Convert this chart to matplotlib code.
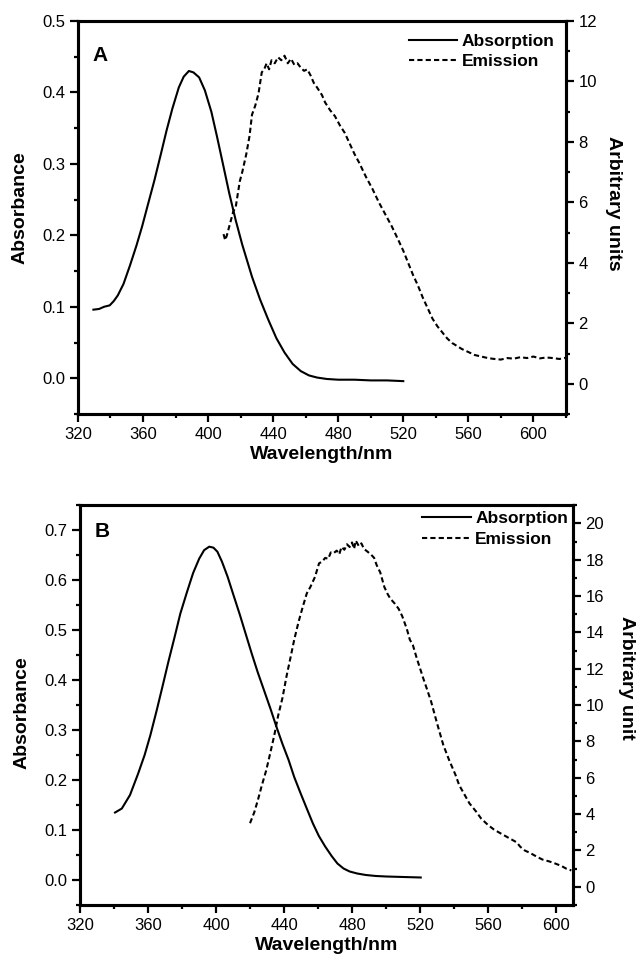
import matplotlib
matplotlib.use("Agg")
from matplotlib import pyplot as plt
from matplotlib.ticker import MultipleLocator

plt.rcParams["font.family"] = ["Liberation Sans", "DejaVu Sans"]

# panel A
abs_a_x = [329.5, 333, 336, 339.5, 342, 344.5, 348, 352, 356, 359.5, 363, 367, 371, 374.5, 378, 382, 385,
           388.2, 391, 394.5, 398, 402, 405.5, 409.5, 413, 417, 421, 427, 432, 437, 442, 447, 452, 457,
           462, 467, 473, 480, 490, 500, 510, 520]
abs_a_y = [0.096, 0.097, 0.100, 0.102, 0.108, 0.116, 0.132, 0.158, 0.186, 0.213, 0.243, 0.277, 0.314, 0.347,
           0.377, 0.407, 0.422, 0.430, 0.428, 0.421, 0.403, 0.373, 0.338, 0.296, 0.259, 0.221, 0.187, 0.142,
           0.110, 0.082, 0.056, 0.036, 0.020, 0.010, 0.004, 0.001, -0.001, -0.002, -0.002, -0.003, -0.003,
           -0.004]

em_a_x = [409.5, 410.5, 411.5, 413, 415.5, 417, 419.5, 421, 423.5, 425.5, 427, 429, 431, 433, 434.5, 436,
          437.5, 439, 441, 443, 445, 447, 449, 451, 453, 455, 457, 459, 461, 463, 465, 467, 470, 472, 475,
          478, 481, 484, 487, 490, 493, 497, 501, 505, 509, 513, 517, 520, 523, 526, 529, 532, 535, 538,
          541, 544, 547, 550, 553, 556, 560, 564, 568, 572, 576, 580, 584, 588, 592, 596, 600, 604, 608,
          612, 616, 620]
em_a_y = [4.95, 4.75, 4.9, 5.2, 5.7, 5.85, 6.7, 7.0, 7.6, 8.2, 8.9, 9.2, 9.6, 10.3, 10.4, 10.6, 10.4, 10.7,
          10.6, 10.8, 10.7, 10.85, 10.6, 10.75, 10.55, 10.6, 10.45, 10.35, 10.4, 10.2, 9.95, 9.8, 9.55, 9.3,
          9.05, 8.85, 8.55, 8.3, 7.95, 7.6, 7.3, 6.85, 6.45, 6.0, 5.6, 5.2, 4.75, 4.4, 4.0, 3.6, 3.25, 2.85,
          2.5, 2.15, 1.9, 1.7, 1.5, 1.35, 1.25, 1.15, 1.05, 0.95, 0.9, 0.85, 0.82, 0.8, 0.85, 0.83, 0.88,
          0.85, 0.9, 0.84, 0.87, 0.85, 0.82, 0.86]

# panel B
abs_b_x = [340.6, 344.6, 349.4, 354.2, 358, 361.4, 365, 368.5, 372, 375.7, 379, 382.9, 386.5, 390.1, 393,
           396, 398.5, 400.8, 403.5, 406.8, 410, 414, 417.5, 421.1, 424.5, 428.3, 432, 435.5, 439, 442.7,
           446, 449.8, 453.5, 457, 460.5, 464.2, 468, 471.4, 475, 478.6, 483, 488.1, 494, 500, 510, 520.4]
abs_b_y = [0.135, 0.143, 0.170, 0.213, 0.250, 0.290, 0.338, 0.387, 0.437, 0.487, 0.533, 0.576, 0.614, 0.643,
           0.660, 0.667, 0.665, 0.657, 0.637, 0.607, 0.573, 0.531, 0.492, 0.452, 0.416, 0.379, 0.343, 0.307,
           0.273, 0.240, 0.206, 0.173, 0.142, 0.113, 0.088, 0.067, 0.048, 0.033, 0.023, 0.017, 0.013, 0.010,
           0.008, 0.007, 0.006, 0.005]

em_b_x = [420, 422.5, 424.7, 427, 429.5, 432, 434.3, 436.5, 439.1, 441.5, 443.9, 446, 448.6, 451, 453.4,
          455.5, 458.2, 460.6, 462.5, 464.2, 466, 467.5, 469, 471, 472.5, 473.8, 475.5, 477, 478.6, 480,
          481.2, 482.2, 484, 485.5, 487, 489, 491, 493, 494.5, 496.6, 499, 501, 502.6, 505, 507.4, 509.5,
          512.2, 514, 515.8, 518, 521.8, 524, 526.5, 530, 533.7, 537, 540.9, 543, 545.7, 549, 552.9, 556,
          560, 563.5, 567.2, 572, 576.8, 579, 581.6, 585, 588.8, 592, 595.9, 599, 603.1, 606, 609]
em_b_y = [3.5, 4.1, 4.8, 5.6, 6.4, 7.4, 8.35, 9.4, 10.4, 11.6, 12.65, 13.6, 14.6, 15.4, 16.15, 16.5, 17.05,
          17.8, 17.9, 18.1, 18.05, 18.4, 18.35, 18.5, 18.3, 18.7, 18.55, 18.85, 18.7, 18.95, 18.6, 19.05,
          18.75, 18.9, 18.6, 18.45, 18.3, 18.1, 17.7, 17.3, 16.5, 16.1, 15.85, 15.6, 15.3, 14.9, 14.2, 13.6,
          13.3, 12.6, 11.5, 10.9, 10.2, 9.0, 7.8, 7.0, 6.15, 5.6, 5.15, 4.6, 4.15, 3.75, 3.4, 3.15, 2.95, 2.7,
          2.45, 2.2, 2.0, 1.85, 1.65, 1.5, 1.4, 1.3, 1.15, 1.0, 0.9]


def style(ax, ax2, xmax, ymax, y2max, y2major):
    ax.set_xlim(320, xmax)
    ax.set_ylim(-0.05, ymax)
    ax2.set_ylim(-1, y2max)
    ax.xaxis.set_major_locator(MultipleLocator(40))
    ax.xaxis.set_minor_locator(MultipleLocator(20))
    ax.yaxis.set_major_locator(MultipleLocator(0.1))
    ax.yaxis.set_minor_locator(MultipleLocator(0.05))
    ax2.yaxis.set_major_locator(MultipleLocator(y2major))
    ax2.yaxis.set_minor_locator(MultipleLocator(y2major / 2))
    ax.yaxis.set_major_formatter(plt.FuncFormatter(lambda v, p: "%.1f" % v))
    for a in (ax, ax2):
        for s in a.spines.values():
            s.set_linewidth(2.2)
        a.tick_params(which="major", direction="out", length=5.5, width=1.6, labelsize=12, pad=3.5)
        a.tick_params(which="minor", direction="out", length=3, width=1.6)
    ax.tick_params(which="both", top=False, right=False)
    ax.tick_params(axis="x", which="major", pad=4)
    ax2.tick_params(which="both", left=False, right=True)


fig = plt.figure(figsize=(6.37, 9.61), dpi=100)

# ---- A ----
ax = fig.add_axes([0.1224, 0.5692, 0.766, 0.409])
ax2 = ax.twinx()
la, = ax.plot(abs_a_x, abs_a_y, "k-", lw=1.5)
le, = ax2.plot(em_a_x, em_a_y, "k", lw=1.5, dashes=(2.5, 1.5))
style(ax, ax2, 620, 0.5, 12, 2)
ax.set_xlabel("Wavelength/nm", fontsize=14, fontweight="bold", labelpad=3)
ax.set_ylabel("Absorbance", fontsize=14, fontweight="bold")
ax.yaxis.set_label_coords(-0.102, 0.524)
ax2.set_ylabel("Arbitrary units", fontsize=14, fontweight="bold", rotation=270, va="bottom")
ax2.yaxis.set_label_coords(1.081, 0.537)
ax.text(0.029, 0.913, "A", transform=ax.transAxes, fontsize=15, fontweight="bold", va="center")
ax.legend([la, le], ["Absorption", "Emission"], loc="upper left", bbox_to_anchor=(0.678, 0.967),
          frameon=False, handlelength=2.8, handletextpad=0.25, labelspacing=0.3, borderpad=0,
          borderaxespad=0, prop={"size": 12.5, "weight": "bold"})

# ---- B ----
bx = fig.add_axes([0.1256, 0.0583, 0.774, 0.416])
bx2 = bx.twinx()
lb, = bx.plot(abs_b_x, abs_b_y, "k-", lw=1.5)
lf, = bx2.plot(em_b_x, em_b_y, "k", lw=1.5, dashes=(2.5, 1.5))
style(bx, bx2, 610, 0.75, 21, 2)
bx.set_xlabel("Wavelength/nm", fontsize=14, fontweight="bold", labelpad=3)
bx.set_ylabel("Absorbance", fontsize=14, fontweight="bold")
bx.yaxis.set_label_coords(-0.10, 0.48)
bx2.set_ylabel("Arbitrary unit", fontsize=14, fontweight="bold", rotation=270, va="bottom")
bx2.yaxis.set_label_coords(1.092, 0.567)
bx.text(0.030, 0.935, "B", transform=bx.transAxes, fontsize=15, fontweight="bold", va="center")
bx.legend([lb, lf], ["Absorption", "Emission"], loc="upper left", bbox_to_anchor=(0.694, 0.985),
          frameon=False, handlelength=2.8, handletextpad=0.25, labelspacing=0.3, borderpad=0,
          borderaxespad=0, prop={"size": 12.5, "weight": "bold"})

fig.savefig("out.png", dpi=100)
